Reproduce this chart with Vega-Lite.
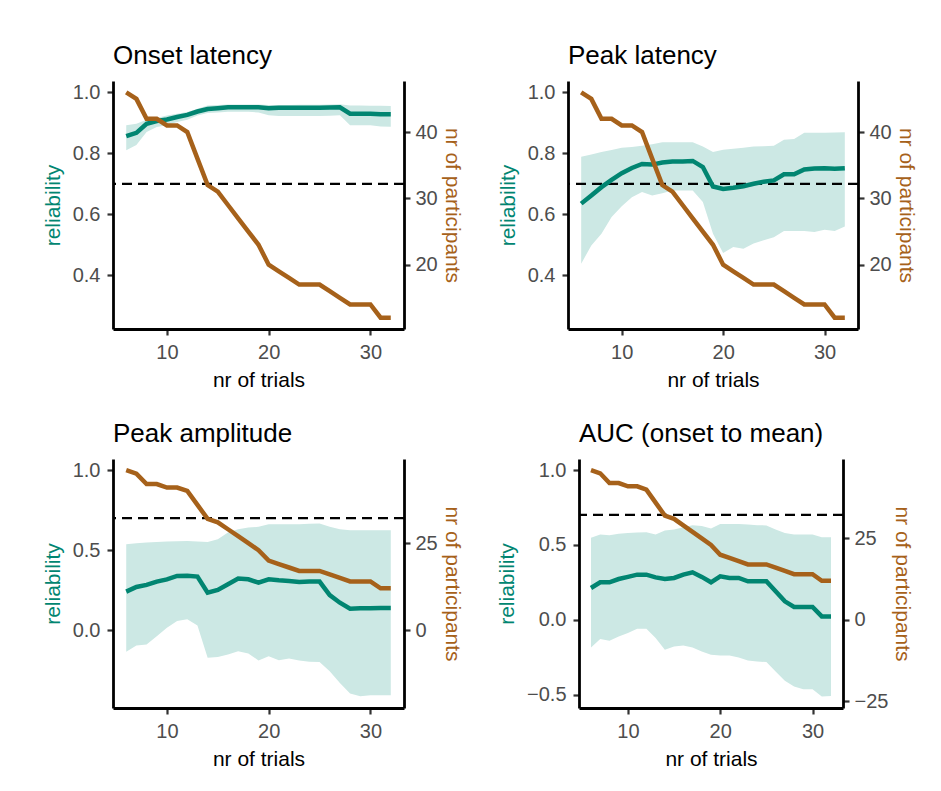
{
  "$schema": "https://vega.github.io/schema/vega-lite/v6.json",
  "background": "white",
  "padding": {"left": 42, "top": 43, "right": 5, "bottom": 5},
  "config": {
    "font": "Liberation Sans",
    "view": {"stroke": null},
    "axis": {"grid": false, "domainColor": "black", "domainWidth": 2.8, "tickColor": "#333333", "tickWidth": 2.2, "tickSize": 6, "labelColor": "#4d4d4d", "labelFontSize": 20, "labelFont": "Liberation Sans", "titleFont": "Liberation Sans", "titleFontSize": 21, "titleFontWeight": "normal", "titleColor": "black"},
    "title": {"fontSize": 26, "font": "Liberation Sans", "fontWeight": "normal", "anchor": "start", "frame": "group", "offset": 12, "color": "black"}
  },
  "datasets": {
    "n": [
      {"trials": 6, "n": 46}, {"trials": 7, "n": 45}, {"trials": 8, "n": 42}, {"trials": 9, "n": 42}, {"trials": 10, "n": 41}, {"trials": 11, "n": 41}, {"trials": 12, "n": 40}, {"trials": 13, "n": 36}, {"trials": 14, "n": 32}, {"trials": 15, "n": 31}, {"trials": 16, "n": 29}, {"trials": 17, "n": 27}, {"trials": 18, "n": 25}, {"trials": 19, "n": 23}, {"trials": 20, "n": 20}, {"trials": 21, "n": 19}, {"trials": 22, "n": 18}, {"trials": 23, "n": 17}, {"trials": 24, "n": 17}, {"trials": 25, "n": 17}, {"trials": 26, "n": 16}, {"trials": 27, "n": 15}, {"trials": 28, "n": 14}, {"trials": 29, "n": 14}, {"trials": 30, "n": 14}, {"trials": 31, "n": 12}, {"trials": 32, "n": 12}
    ],
    "rel": [
      {"measure": "Onset latency", "trials": 6, "r": 0.856, "lo": 0.81, "hi": 0.892},
      {"measure": "Onset latency", "trials": 7, "r": 0.867, "lo": 0.827, "hi": 0.897},
      {"measure": "Onset latency", "trials": 8, "r": 0.897, "lo": 0.87, "hi": 0.91},
      {"measure": "Onset latency", "trials": 9, "r": 0.906, "lo": 0.886, "hi": 0.916},
      {"measure": "Onset latency", "trials": 10, "r": 0.911, "lo": 0.892, "hi": 0.924},
      {"measure": "Onset latency", "trials": 11, "r": 0.919, "lo": 0.903, "hi": 0.93},
      {"measure": "Onset latency", "trials": 12, "r": 0.926, "lo": 0.91, "hi": 0.935},
      {"measure": "Onset latency", "trials": 13, "r": 0.937, "lo": 0.924, "hi": 0.946},
      {"measure": "Onset latency", "trials": 14, "r": 0.945, "lo": 0.932, "hi": 0.957},
      {"measure": "Onset latency", "trials": 15, "r": 0.948, "lo": 0.934, "hi": 0.958},
      {"measure": "Onset latency", "trials": 16, "r": 0.951, "lo": 0.936, "hi": 0.96},
      {"measure": "Onset latency", "trials": 17, "r": 0.951, "lo": 0.936, "hi": 0.96},
      {"measure": "Onset latency", "trials": 18, "r": 0.951, "lo": 0.936, "hi": 0.96},
      {"measure": "Onset latency", "trials": 19, "r": 0.951, "lo": 0.934, "hi": 0.96},
      {"measure": "Onset latency", "trials": 20, "r": 0.948, "lo": 0.925, "hi": 0.958},
      {"measure": "Onset latency", "trials": 21, "r": 0.949, "lo": 0.922, "hi": 0.958},
      {"measure": "Onset latency", "trials": 22, "r": 0.949, "lo": 0.922, "hi": 0.958},
      {"measure": "Onset latency", "trials": 23, "r": 0.949, "lo": 0.922, "hi": 0.959},
      {"measure": "Onset latency", "trials": 24, "r": 0.949, "lo": 0.922, "hi": 0.959},
      {"measure": "Onset latency", "trials": 25, "r": 0.949, "lo": 0.922, "hi": 0.959},
      {"measure": "Onset latency", "trials": 26, "r": 0.95, "lo": 0.923, "hi": 0.96},
      {"measure": "Onset latency", "trials": 27, "r": 0.951, "lo": 0.925, "hi": 0.961},
      {"measure": "Onset latency", "trials": 28, "r": 0.93, "lo": 0.892, "hi": 0.957},
      {"measure": "Onset latency", "trials": 29, "r": 0.93, "lo": 0.892, "hi": 0.957},
      {"measure": "Onset latency", "trials": 30, "r": 0.93, "lo": 0.892, "hi": 0.956},
      {"measure": "Onset latency", "trials": 31, "r": 0.928, "lo": 0.888, "hi": 0.956},
      {"measure": "Onset latency", "trials": 32, "r": 0.928, "lo": 0.887, "hi": 0.955},
      {"measure": "Peak latency", "trials": 6, "r": 0.635, "lo": 0.438, "hi": 0.789},
      {"measure": "Peak latency", "trials": 7, "r": 0.662, "lo": 0.498, "hi": 0.796},
      {"measure": "Peak latency", "trials": 8, "r": 0.689, "lo": 0.536, "hi": 0.804},
      {"measure": "Peak latency", "trials": 9, "r": 0.713, "lo": 0.591, "hi": 0.811},
      {"measure": "Peak latency", "trials": 10, "r": 0.735, "lo": 0.626, "hi": 0.818},
      {"measure": "Peak latency", "trials": 11, "r": 0.752, "lo": 0.656, "hi": 0.821},
      {"measure": "Peak latency", "trials": 12, "r": 0.765, "lo": 0.673, "hi": 0.825},
      {"measure": "Peak latency", "trials": 13, "r": 0.763, "lo": 0.662, "hi": 0.83},
      {"measure": "Peak latency", "trials": 14, "r": 0.77, "lo": 0.669, "hi": 0.836},
      {"measure": "Peak latency", "trials": 15, "r": 0.773, "lo": 0.678, "hi": 0.836},
      {"measure": "Peak latency", "trials": 16, "r": 0.773, "lo": 0.678, "hi": 0.836},
      {"measure": "Peak latency", "trials": 17, "r": 0.775, "lo": 0.678, "hi": 0.836},
      {"measure": "Peak latency", "trials": 18, "r": 0.755, "lo": 0.64, "hi": 0.822},
      {"measure": "Peak latency", "trials": 19, "r": 0.691, "lo": 0.536, "hi": 0.804},
      {"measure": "Peak latency", "trials": 20, "r": 0.683, "lo": 0.473, "hi": 0.812},
      {"measure": "Peak latency", "trials": 21, "r": 0.687, "lo": 0.493, "hi": 0.815},
      {"measure": "Peak latency", "trials": 22, "r": 0.692, "lo": 0.487, "hi": 0.818},
      {"measure": "Peak latency", "trials": 23, "r": 0.7, "lo": 0.504, "hi": 0.822},
      {"measure": "Peak latency", "trials": 24, "r": 0.707, "lo": 0.515, "hi": 0.823},
      {"measure": "Peak latency", "trials": 25, "r": 0.711, "lo": 0.525, "hi": 0.825},
      {"measure": "Peak latency", "trials": 26, "r": 0.731, "lo": 0.545, "hi": 0.844},
      {"measure": "Peak latency", "trials": 27, "r": 0.731, "lo": 0.545, "hi": 0.847},
      {"measure": "Peak latency", "trials": 28, "r": 0.747, "lo": 0.545, "hi": 0.867},
      {"measure": "Peak latency", "trials": 29, "r": 0.75, "lo": 0.542, "hi": 0.867},
      {"measure": "Peak latency", "trials": 30, "r": 0.751, "lo": 0.549, "hi": 0.867},
      {"measure": "Peak latency", "trials": 31, "r": 0.749, "lo": 0.545, "hi": 0.868},
      {"measure": "Peak latency", "trials": 32, "r": 0.751, "lo": 0.56, "hi": 0.869},
      {"measure": "Peak amplitude", "trials": 6, "r": 0.24, "lo": -0.136, "hi": 0.537},
      {"measure": "Peak amplitude", "trials": 7, "r": 0.269, "lo": -0.096, "hi": 0.542},
      {"measure": "Peak amplitude", "trials": 8, "r": 0.282, "lo": -0.09, "hi": 0.547},
      {"measure": "Peak amplitude", "trials": 9, "r": 0.303, "lo": -0.038, "hi": 0.55},
      {"measure": "Peak amplitude", "trials": 10, "r": 0.317, "lo": 0.015, "hi": 0.553},
      {"measure": "Peak amplitude", "trials": 11, "r": 0.338, "lo": 0.056, "hi": 0.555},
      {"measure": "Peak amplitude", "trials": 12, "r": 0.34, "lo": 0.067, "hi": 0.557},
      {"measure": "Peak amplitude", "trials": 13, "r": 0.334, "lo": 0.029, "hi": 0.553},
      {"measure": "Peak amplitude", "trials": 14, "r": 0.234, "lo": -0.173, "hi": 0.551},
      {"measure": "Peak amplitude", "trials": 15, "r": 0.251, "lo": -0.169, "hi": 0.568},
      {"measure": "Peak amplitude", "trials": 16, "r": 0.286, "lo": -0.152, "hi": 0.61},
      {"measure": "Peak amplitude", "trials": 17, "r": 0.322, "lo": -0.132, "hi": 0.63},
      {"measure": "Peak amplitude", "trials": 18, "r": 0.317, "lo": -0.146, "hi": 0.641},
      {"measure": "Peak amplitude", "trials": 19, "r": 0.296, "lo": -0.19, "hi": 0.645},
      {"measure": "Peak amplitude", "trials": 20, "r": 0.317, "lo": -0.163, "hi": 0.662},
      {"measure": "Peak amplitude", "trials": 21, "r": 0.311, "lo": -0.188, "hi": 0.662},
      {"measure": "Peak amplitude", "trials": 22, "r": 0.307, "lo": -0.177, "hi": 0.662},
      {"measure": "Peak amplitude", "trials": 23, "r": 0.301, "lo": -0.19, "hi": 0.662},
      {"measure": "Peak amplitude", "trials": 24, "r": 0.303, "lo": -0.198, "hi": 0.664},
      {"measure": "Peak amplitude", "trials": 25, "r": 0.303, "lo": -0.2, "hi": 0.666},
      {"measure": "Peak amplitude", "trials": 26, "r": 0.219, "lo": -0.257, "hi": 0.645},
      {"measure": "Peak amplitude", "trials": 27, "r": 0.171, "lo": -0.33, "hi": 0.63},
      {"measure": "Peak amplitude", "trials": 28, "r": 0.134, "lo": -0.397, "hi": 0.624},
      {"measure": "Peak amplitude", "trials": 29, "r": 0.136, "lo": -0.413, "hi": 0.624},
      {"measure": "Peak amplitude", "trials": 30, "r": 0.136, "lo": -0.407, "hi": 0.624},
      {"measure": "Peak amplitude", "trials": 31, "r": 0.138, "lo": -0.407, "hi": 0.624},
      {"measure": "Peak amplitude", "trials": 32, "r": 0.138, "lo": -0.407, "hi": 0.624},
      {"measure": "AUC (onset to mean)", "trials": 6, "r": 0.212, "lo": -0.185, "hi": 0.547},
      {"measure": "AUC (onset to mean)", "trials": 7, "r": 0.25, "lo": -0.129, "hi": 0.569},
      {"measure": "AUC (onset to mean)", "trials": 8, "r": 0.25, "lo": -0.141, "hi": 0.565},
      {"measure": "AUC (onset to mean)", "trials": 9, "r": 0.272, "lo": -0.112, "hi": 0.574},
      {"measure": "AUC (onset to mean)", "trials": 10, "r": 0.286, "lo": -0.089, "hi": 0.58},
      {"measure": "AUC (onset to mean)", "trials": 11, "r": 0.301, "lo": -0.06, "hi": 0.583},
      {"measure": "AUC (onset to mean)", "trials": 12, "r": 0.301, "lo": -0.06, "hi": 0.585},
      {"measure": "AUC (onset to mean)", "trials": 13, "r": 0.283, "lo": -0.123, "hi": 0.569},
      {"measure": "AUC (onset to mean)", "trials": 14, "r": 0.272, "lo": -0.201, "hi": 0.596},
      {"measure": "AUC (onset to mean)", "trials": 15, "r": 0.279, "lo": -0.179, "hi": 0.603},
      {"measure": "AUC (onset to mean)", "trials": 16, "r": 0.301, "lo": -0.172, "hi": 0.618},
      {"measure": "AUC (onset to mean)", "trials": 17, "r": 0.317, "lo": -0.185, "hi": 0.632},
      {"measure": "AUC (onset to mean)", "trials": 18, "r": 0.286, "lo": -0.212, "hi": 0.627},
      {"measure": "AUC (onset to mean)", "trials": 19, "r": 0.25, "lo": -0.234, "hi": 0.609},
      {"measure": "AUC (onset to mean)", "trials": 20, "r": 0.29, "lo": -0.239, "hi": 0.64},
      {"measure": "AUC (onset to mean)", "trials": 21, "r": 0.279, "lo": -0.239, "hi": 0.64},
      {"measure": "AUC (onset to mean)", "trials": 22, "r": 0.279, "lo": -0.252, "hi": 0.64},
      {"measure": "AUC (onset to mean)", "trials": 23, "r": 0.257, "lo": -0.272, "hi": 0.636},
      {"measure": "AUC (onset to mean)", "trials": 24, "r": 0.257, "lo": -0.279, "hi": 0.632},
      {"measure": "AUC (onset to mean)", "trials": 25, "r": 0.257, "lo": -0.283, "hi": 0.63},
      {"measure": "AUC (onset to mean)", "trials": 26, "r": 0.19, "lo": -0.346, "hi": 0.603},
      {"measure": "AUC (onset to mean)", "trials": 27, "r": 0.123, "lo": -0.408, "hi": 0.58},
      {"measure": "AUC (onset to mean)", "trials": 28, "r": 0.085, "lo": -0.446, "hi": 0.569},
      {"measure": "AUC (onset to mean)", "trials": 29, "r": 0.085, "lo": -0.464, "hi": 0.569},
      {"measure": "AUC (onset to mean)", "trials": 30, "r": 0.085, "lo": -0.464, "hi": 0.569},
      {"measure": "AUC (onset to mean)", "trials": 31, "r": 0.022, "lo": -0.513, "hi": 0.551},
      {"measure": "AUC (onset to mean)", "trials": 32, "r": 0.022, "lo": -0.509, "hi": 0.551}
    ]
  },
  "vconcat": [
    {
      "hconcat": [
        {
          "title": "Onset latency",
          "width": 291, "height": 248,
          "layer": [
            {"layer": [
              {"data": {"name": "rel"}, "transform": [{"filter": "datum.measure === 'Onset latency'"}],
               "mark": {"type": "area", "color": "#cce8e4", "opacity": 1},
               "encoding": {
                 "x": {"field": "trials", "type": "quantitative", "scale": {"domain": [4.7, 33.3], "nice": false, "zero": false}, "axis": {"values": [10, 20, 30], "title": "nr of trials", "labelPadding": 7, "titlePadding": 7}},
                 "y": {"field": "lo", "type": "quantitative", "scale": {"domain": [0.224, 1.037], "nice": false, "zero": false}, "axis": {"orient": "left", "values": [0.4, 0.6, 0.8, 1.0], "format": ".1f", "title": "reliability", "titleColor": "#018571", "labelPadding": 7, "titlePadding": 9}},
                 "y2": {"field": "hi"}}},
              {"data": {"values": [{}]}, "mark": {"type": "rule", "strokeDash": [10, 6], "strokeWidth": 2.2, "color": "black"},
               "encoding": {"y": {"datum": 0.7, "type": "quantitative"}}},
              {"data": {"name": "rel"}, "transform": [{"filter": "datum.measure === 'Onset latency'"}],
               "mark": {"type": "line", "color": "#018571", "strokeWidth": 4.5},
               "encoding": {
                 "x": {"field": "trials", "type": "quantitative", "scale": {"domain": [4.7, 33.3], "nice": false, "zero": false}, "axis": {"values": [10, 20, 30], "title": "nr of trials", "labelPadding": 7, "titlePadding": 7}},
                 "y": {"field": "r", "type": "quantitative", "axis": {"orient": "left", "values": [0.4, 0.6, 0.8, 1.0], "format": ".1f", "title": "reliability", "titleColor": "#018571", "labelPadding": 7, "titlePadding": 9}}}}
            ]},
            {"data": {"name": "n"},
             "mark": {"type": "line", "color": "#a6611a", "strokeWidth": 4.5},
             "encoding": {
               "x": {"field": "trials", "type": "quantitative", "scale": {"domain": [4.7, 33.3], "nice": false, "zero": false}, "axis": {"values": [10, 20, 30], "title": "nr of trials", "labelPadding": 7, "titlePadding": 7}},
               "y": {"field": "n", "type": "quantitative", "scale": {"domain": [10.3, 47.7], "nice": false, "zero": false}, "axis": {"orient": "right", "values": [20, 30, 40], "title": "nr of participants", "titleColor": "#a6611a", "labelPadding": 5, "titlePadding": 4}}}}
          ],
          "resolve": {"scale": {"y": "independent"}, "axis": {"y": "independent"}}
        },
        {
          "title": "Peak latency",
          "width": 290, "height": 248,
          "layer": [
            {"layer": [
              {"data": {"name": "rel"}, "transform": [{"filter": "datum.measure === 'Peak latency'"}],
               "mark": {"type": "area", "color": "#cce8e4", "opacity": 1},
               "encoding": {
                 "x": {"field": "trials", "type": "quantitative", "scale": {"domain": [4.7, 33.3], "nice": false, "zero": false}, "axis": {"values": [10, 20, 30], "title": "nr of trials", "labelPadding": 7, "titlePadding": 7}},
                 "y": {"field": "lo", "type": "quantitative", "scale": {"domain": [0.224, 1.037], "nice": false, "zero": false}, "axis": {"orient": "left", "values": [0.4, 0.6, 0.8, 1.0], "format": ".1f", "title": "reliability", "titleColor": "#018571", "labelPadding": 7, "titlePadding": 9}},
                 "y2": {"field": "hi"}}},
              {"data": {"values": [{}]}, "mark": {"type": "rule", "strokeDash": [10, 6], "strokeWidth": 2.2, "color": "black"},
               "encoding": {"y": {"datum": 0.7, "type": "quantitative"}}},
              {"data": {"name": "rel"}, "transform": [{"filter": "datum.measure === 'Peak latency'"}],
               "mark": {"type": "line", "color": "#018571", "strokeWidth": 4.5},
               "encoding": {
                 "x": {"field": "trials", "type": "quantitative", "scale": {"domain": [4.7, 33.3], "nice": false, "zero": false}, "axis": {"values": [10, 20, 30], "title": "nr of trials", "labelPadding": 7, "titlePadding": 7}},
                 "y": {"field": "r", "type": "quantitative", "axis": {"orient": "left", "values": [0.4, 0.6, 0.8, 1.0], "format": ".1f", "title": "reliability", "titleColor": "#018571", "labelPadding": 7, "titlePadding": 9}}}}
            ]},
            {"data": {"name": "n"},
             "mark": {"type": "line", "color": "#a6611a", "strokeWidth": 4.5},
             "encoding": {
               "x": {"field": "trials", "type": "quantitative", "scale": {"domain": [4.7, 33.3], "nice": false, "zero": false}, "axis": {"values": [10, 20, 30], "title": "nr of trials", "labelPadding": 7, "titlePadding": 7}},
               "y": {"field": "n", "type": "quantitative", "scale": {"domain": [10.3, 47.7], "nice": false, "zero": false}, "axis": {"orient": "right", "values": [20, 30, 40], "title": "nr of participants", "titleColor": "#a6611a", "labelPadding": 5, "titlePadding": 4}}}}
          ],
          "resolve": {"scale": {"y": "independent"}, "axis": {"y": "independent"}}
        }
      ],
      "spacing": 164,
      "bounds": "flush"
    },
    {
      "hconcat": [
        {
          "title": "Peak amplitude",
          "width": 291, "height": 249,
          "layer": [
            {"layer": [
              {"data": {"name": "rel"}, "transform": [{"filter": "datum.measure === 'Peak amplitude'"}],
               "mark": {"type": "area", "color": "#cce8e4", "opacity": 1},
               "encoding": {
                 "x": {"field": "trials", "type": "quantitative", "scale": {"domain": [4.7, 33.3], "nice": false, "zero": false}, "axis": {"values": [10, 20, 30], "title": "nr of trials", "labelPadding": 7, "titlePadding": 7}},
                 "y": {"field": "lo", "type": "quantitative", "scale": {"domain": [-0.487, 1.069], "nice": false, "zero": false}, "axis": {"orient": "left", "values": [0.0, 0.5, 1.0], "format": ".1f", "title": "reliability", "titleColor": "#018571", "labelPadding": 7, "titlePadding": 9}},
                 "y2": {"field": "hi"}}},
              {"data": {"values": [{}]}, "mark": {"type": "rule", "strokeDash": [10, 6], "strokeWidth": 2.2, "color": "black"},
               "encoding": {"y": {"datum": 0.7, "type": "quantitative"}}},
              {"data": {"name": "rel"}, "transform": [{"filter": "datum.measure === 'Peak amplitude'"}],
               "mark": {"type": "line", "color": "#018571", "strokeWidth": 4.5},
               "encoding": {
                 "x": {"field": "trials", "type": "quantitative", "scale": {"domain": [4.7, 33.3], "nice": false, "zero": false}, "axis": {"values": [10, 20, 30], "title": "nr of trials", "labelPadding": 7, "titlePadding": 7}},
                 "y": {"field": "r", "type": "quantitative", "axis": {"orient": "left", "values": [0.0, 0.5, 1.0], "format": ".1f", "title": "reliability", "titleColor": "#018571", "labelPadding": 7, "titlePadding": 9}}}}
            ]},
            {"data": {"name": "n"},
             "mark": {"type": "line", "color": "#a6611a", "strokeWidth": 4.5},
             "encoding": {
               "x": {"field": "trials", "type": "quantitative", "scale": {"domain": [4.7, 33.3], "nice": false, "zero": false}, "axis": {"values": [10, 20, 30], "title": "nr of trials", "labelPadding": 7, "titlePadding": 7}},
               "y": {"field": "n", "type": "quantitative", "scale": {"domain": [-22.4, 49.2], "nice": false, "zero": false}, "axis": {"orient": "right", "values": [0, 25], "title": "nr of participants", "titleColor": "#a6611a", "labelPadding": 5, "titlePadding": 4}}}}
          ],
          "resolve": {"scale": {"y": "independent"}, "axis": {"y": "independent"}}
        },
        {
          "title": "AUC (onset to mean)",
          "width": 264, "height": 249,
          "layer": [
            {"layer": [
              {"data": {"name": "rel"}, "transform": [{"filter": "datum.measure === 'AUC (onset to mean)'"}],
               "mark": {"type": "area", "color": "#cce8e4", "opacity": 1},
               "encoding": {
                 "x": {"field": "trials", "type": "quantitative", "scale": {"domain": [4.7, 33.3], "nice": false, "zero": false}, "axis": {"values": [10, 20, 30], "title": "nr of trials", "labelPadding": 7, "titlePadding": 7}},
                 "y": {"field": "lo", "type": "quantitative", "scale": {"domain": [-0.59, 1.074], "nice": false, "zero": false}, "axis": {"orient": "left", "values": [-0.5, 0.0, 0.5, 1.0], "format": ".1f", "title": "reliability", "titleColor": "#018571", "labelPadding": 7, "titlePadding": 9}},
                 "y2": {"field": "hi"}}},
              {"data": {"values": [{}]}, "mark": {"type": "rule", "strokeDash": [10, 6], "strokeWidth": 2.2, "color": "black"},
               "encoding": {"y": {"datum": 0.7, "type": "quantitative"}}},
              {"data": {"name": "rel"}, "transform": [{"filter": "datum.measure === 'AUC (onset to mean)'"}],
               "mark": {"type": "line", "color": "#018571", "strokeWidth": 4.5},
               "encoding": {
                 "x": {"field": "trials", "type": "quantitative", "scale": {"domain": [4.7, 33.3], "nice": false, "zero": false}, "axis": {"values": [10, 20, 30], "title": "nr of trials", "labelPadding": 7, "titlePadding": 7}},
                 "y": {"field": "r", "type": "quantitative", "axis": {"orient": "left", "values": [-0.5, 0.0, 0.5, 1.0], "format": ".1f", "title": "reliability", "titleColor": "#018571", "labelPadding": 7, "titlePadding": 9}}}}
            ]},
            {"data": {"name": "n"},
             "mark": {"type": "line", "color": "#a6611a", "strokeWidth": 4.5},
             "encoding": {
               "x": {"field": "trials", "type": "quantitative", "scale": {"domain": [4.7, 33.3], "nice": false, "zero": false}, "axis": {"values": [10, 20, 30], "title": "nr of trials", "labelPadding": 7, "titlePadding": 7}},
               "y": {"field": "n", "type": "quantitative", "scale": {"domain": [-27.1, 49.4], "nice": false, "zero": false}, "axis": {"orient": "right", "values": [-25, 0, 25], "title": "nr of participants", "titleColor": "#a6611a", "labelPadding": 5, "titlePadding": 4}}}}
          ],
          "resolve": {"scale": {"y": "independent"}, "axis": {"y": "independent"}}
        }
      ],
      "spacing": 175,
      "bounds": "flush"
    }
  ],
  "spacing": 31
}
